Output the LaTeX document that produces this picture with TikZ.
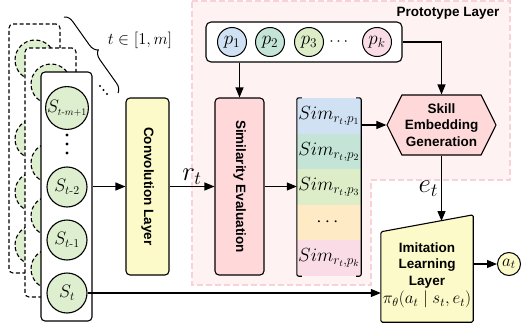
\RequirePackage{fix-cm}
\documentclass[tikz,border=0pt]{standalone}
\usepackage{amsmath}
\usepackage{fontspec}
\setsansfont{Liberation Sans}
\usetikzlibrary{arrows.meta,decorations.pathreplacing,shapes.symbols}
\DeclareMathSizes{18}{18}{12}{10}

\definecolor{stategreen}{HTML}{DDEFCF}
\definecolor{convyellow}{HTML}{FCFAC8}
\definecolor{simpink}{HTML}{FFD9DA}
\definecolor{protobg}{HTML}{FFF2F2}
\definecolor{protoedge}{HTML}{F8D2D6}
\definecolor{pblue}{HTML}{CFE1F2}
\definecolor{pteal}{HTML}{C3E4D7}
\definecolor{pgreen}{HTML}{DCEDC8}
\definecolor{pyellow}{HTML}{FEEBC6}
\definecolor{ppink}{HTML}{F9DCE5}

\begin{document}
\begin{tikzpicture}[x=1pt, y=-1pt, >={Triangle[length=10pt,width=8pt]},
    box/.style={draw, line width=1.1pt, rounded corners=4pt, inner sep=0pt},
    state/.style={circle, draw, line width=1.1pt, fill=stategreen, minimum size=40pt,
        inner sep=0pt, font=\fontsize{18}{18}\selectfont},
    ghost/.style={dash pattern=on 4pt off 2.5pt},
    proto/.style={circle, draw, line width=1pt, minimum size=29pt, inner sep=0pt,
        font=\fontsize{19}{19}\selectfont},
    layer/.style={font=\sffamily\bfseries\fontsize{13.5}{16.5}\selectfont},
    cell/.style={minimum width=64pt, minimum height=35.6pt, inner sep=0pt,
        font=\fontsize{19}{19}\selectfont},
    arr/.style={->, line width=1.1pt}]
    \useasboundingbox (0,0) rectangle (522,332);

    % Prototype layer background (L-shaped)
    \filldraw[fill=protobg, draw=protoedge, line width=1.2pt, dash pattern=on 6pt off 3pt]
        (192,1) -- (510,1) -- (510,180) -- (371,180) -- (371,285) -- (192,285) -- cycle;
    \node[layer, anchor=east] (protolabel) at (503,13) {Prototype Layer};

    % Stacked state windows, the older ones dashed
    \foreach \k in {2,1} {
        \begin{scope}[shift={(-16*\k,-24*\k)}]
            \node[box, ghost, fill=white, minimum width=51pt, minimum height=249pt]
                (frame\k) at (66.5,196.5) {};
            \foreach \y [count=\i] in {108,187,240,293}
                \node[state, ghost] (ghost\k\i) at (67,\y) {};
        \end{scope}
    }
    \node[box, fill=white, minimum width=51pt, minimum height=249pt] (frame0) at (66.5,196.5) {};
    \node[state] (sm) at (67,108) {$S_{\scriptscriptstyle t\text{-}m+1}$};
    \foreach \y in {135,144,153}
        \fill (67,\y) circle[radius=1.7pt];
    \node[state] (s2) at (67,187) {$S_{t\text{-}2}$};
    \node[state] (s1) at (67,240) {$S_{t\text{-}1}$};
    \node[state] (s0) at (67,293) {$S_t$};

    % Brace over the window stack
    \coordinate (braceA) at (64,17);
    \coordinate (braceB) at (118,93);
    \draw[decorate, decoration={brace, amplitude=9pt}, line width=1pt] (braceA) -- (braceB);
    \node[font=\fontsize{16.5}{16.5}\selectfont] (trange) at (140,40) {$t\in[1,m]$};
    \foreach \d in {0,1,2}
        \fill (100+3.5*\d,86+4*\d) circle[radius=1.1pt];

    % Convolution and similarity blocks
    \node[box, fill=convyellow, minimum width=43pt, minimum height=177pt,
        label={[layer, rotate=-90]center:Convolution Layer}] (conv) at (147.5,186.5) {};
    \node[box, fill=simpink, minimum width=49pt, minimum height=177pt,
        label={[layer, rotate=-90]center:Similarity Evaluation}] (simeval) at (239.5,186.5) {};

    % Prototype row
    \node[box, fill=white, rounded corners=5pt, minimum width=196pt, minimum height=40pt]
        (prow) at (304,42) {};
    \node[proto, fill=pblue] (p1) at (232,42) {$p_1$};
    \node[proto, fill=pteal] (p2) at (270,42) {$p_2$};
    \node[proto, fill=pgreen] (p3) at (309,42) {$p_3$};
    \node[font=\fontsize{16}{16}\selectfont] (pdots) at (340,42) {$\cdots$};
    \node[proto, fill=ppink] (pk) at (377,42) {$p_k$};

    % Similarity vector
    \foreach \col/\txt [count=\i] in {pblue/{$Sim_{r_t,p_1}$}, pteal/{$Sim_{r_t,p_2}$},
            pgreen/{$Sim_{r_t,p_3}$}, pyellow/{$\cdots$}, ppink/{$Sim_{r_t,p_k}$}}
        \node[cell, fill=\col] (c\i) at (329,{98+35.6*(\i-0.5)}) {\txt};
    \draw[line width=1.1pt, rounded corners=2pt] ([xshift=5pt]c1.north west) -- (c1.north west)
        -- (c5.south west) -- ([xshift=5pt]c5.south west);
    \draw[line width=1.1pt, rounded corners=2pt] ([xshift=-5pt]c1.north east) -- (c1.north east)
        -- (c5.south east) -- ([xshift=-5pt]c5.south east);

    % Skill embedding
    \node[signal, signal to=east and west, signal pointer angle=127, draw, line width=1.1pt,
        fill=simpink, minimum width=109pt, minimum height=60pt, inner sep=1pt, align=center, layer]
        (skill) at (441.5,125) {Skill\\Embedding\\Generation};

    % Imitation learning layer
    \node[minimum width=92pt, minimum height=107pt, inner sep=0pt] (imit) at (427,268.5) {};
    \draw[line width=1.1pt, fill=convyellow, rounded corners=1.5pt] (imit.south west)
        -- ([yshift=-17pt]imit.north west) -- (imit.north east) -- (imit.south east) -- cycle;
    \node[layer, align=center] (imtext) at (427,275)
        {Imitation\\Learning\\Layer\\[2pt]{\fontsize{17}{17}\selectfont$\pi_\theta(a_t\mid s_t,e_t)$}};
    \coordinate (imtop) at (441.5,221);
    \node[circle, draw, line width=1pt, fill=convyellow, minimum size=23pt, inner sep=0pt,
        font=\fontsize{17}{17}\selectfont] (act) at (509,264) {$a_t$};

    % Connections
    \draw[arr] (frame0.east |- conv.west) -- (conv.west);
    \draw[arr] (conv.east) -- (simeval.west)
        node[midway, above, font=\fontsize{27}{27}\selectfont, inner sep=1pt] {$r_t$};
    \draw[arr] (simeval.east) -- (simeval.east -| c3.west);
    \draw[arr] (prow.south -| simeval) -- (simeval.north);
    \draw[arr] (prow.east) -| (skill.north);
    \draw[arr] (c1.east |- skill.west) -- (skill.west);
    \draw[arr] (skill.south) -- (imtop)
        node[midway, left, font=\fontsize{27}{27}\selectfont, inner sep=3pt] {$e_t$};
    \draw[arr] (s0.east) -- (s0 -| imit.west);
    \draw[arr] (imit.east |- act) -- (act.west);
\end{tikzpicture}
\end{document}
